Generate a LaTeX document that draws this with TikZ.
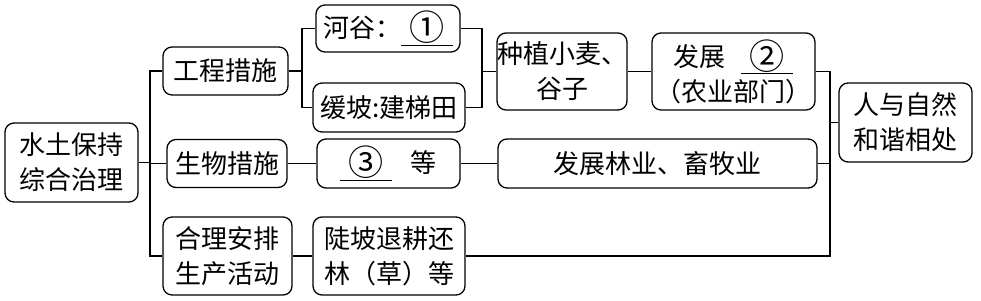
\documentclass[tikz,border=0pt]{standalone}
\usepackage{fontspec}
\setmainfont{Noto Sans CJK SC}
\newcommand{\cnum}[1]{\underline{\makebox[2em]{\raisebox{-0.12em}{\scalebox{1.35}{#1}}}}}
\begin{document}
\begin{tikzpicture}[x=1pt,y=-1pt,
  box/.style={draw, line width=1.3pt, rounded corners=9pt, inner sep=0pt, align=center,
    font=\fontsize{26pt}{35pt}\selectfont},
  link/.style={line width=1.3pt}]
\useasboundingbox (0,0) rectangle (981,300);
\node[box, minimum width=133pt, minimum height=79pt] (root) at (71.5,162.5) {水土保持\\综合治理};
\node[box, minimum width=125pt, minimum height=48pt] (gc) at (225.5,71) {工程措施};
\node[box, minimum width=144pt, minimum height=47pt] (hg) at (388,28.5) {河谷：\cnum{①}};
\node[box, minimum width=152pt, minimum height=49pt] (hp) at (389,107.5) {缓坡:建梯田};
\node[box, minimum width=130pt, minimum height=77pt] (zz) at (562,71.5) {种植小麦、\\谷子};
\node[box, minimum width=163pt, minimum height=77pt] (fz) at (733.5,71.5) {发展\hspace{0.6em}\cnum{②}\\（农业部门）};
\node[box, minimum width=133pt, minimum height=79pt] (rz) at (905.5,122.5) {人与自然\\和谐相处};
\node[box, minimum width=120pt, minimum height=48pt] (sw) at (227,163.5) {生物措施};
\node[box, minimum width=143pt, minimum height=49pt] (sd) at (388.5,163.5) {\cnum{③}\hspace{0.7em}等};
\node[box, minimum width=319pt, minimum height=49pt] (ly) at (657.5,163.5) {发展林业、畜牧业};
\node[box, minimum width=129pt, minimum height=78pt] (hl) at (227.5,256) {合理安排\\生产活动};
\node[box, minimum width=152pt, minimum height=78pt] (dp) at (389,256) {陡坡退耕还\\林（草）等};

\coordinate (a) at (150,0);
\coordinate (b) at (302,0);
\coordinate (c) at (482,0);
\coordinate (d) at (830,0);

\draw[link] (root.east) -- (root.east -| a);
\draw[link] (gc.west) -| (a |- hl.west) -- (hl.west);
\draw[link] (sw.west) -- (sw.west -| a);
\draw[link] (hg.west) -| (b |- hp.west) -- (hp.west);
\draw[link] (gc.east) -- (gc.east -| b);
\draw[link] (hg.east) -| (c |- hp.east) -- (hp.east);
\draw[link] (zz.west) -- (zz.west -| c);
\draw[link] (zz.east) -- (fz.west);
\draw[link] (sw.east) -- (sd.west);
\draw[link] (sd.east) -- (ly.west);
\draw[link] (hl.east) -- (dp.west);
\draw[link] (fz.east) -| (d |- dp.east) -- (dp.east);
\draw[link] (ly.east) -- (ly.east -| d);
\draw[link] (rz.west) -- (rz.west -| d);
\end{tikzpicture}
\end{document}
